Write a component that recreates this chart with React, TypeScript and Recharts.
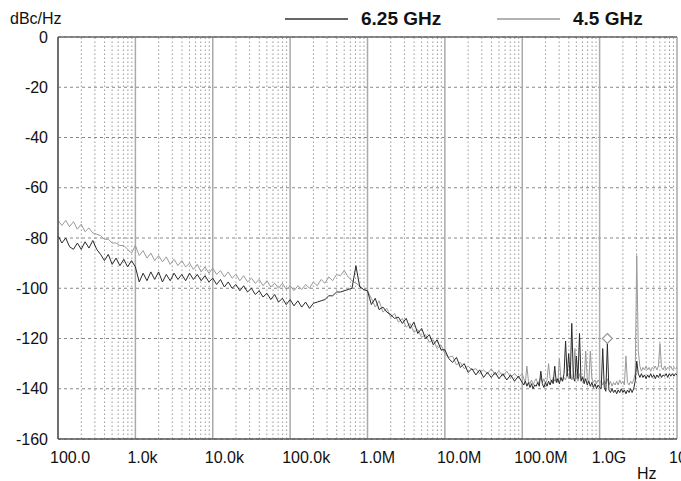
import { LineChart, Line, XAxis, YAxis, CartesianGrid, ReferenceLine, ReferenceDot } from 'recharts';

// offset frequency, as log10(Hz)
const logHz = [
  2, 2.05, 2.1, 2.15, 2.2, 2.25, 2.3, 2.35, 2.4, 2.45, 2.5, 2.55, 2.6, 2.65, 2.7, 2.75, 2.8, 2.85, 2.9, 2.95, 3,
  3.05, 3.1, 3.15, 3.2, 3.25, 3.3, 3.35, 3.4, 3.45, 3.5, 3.55, 3.6, 3.65, 3.7, 3.75, 3.8, 3.85, 3.9, 3.95, 4,
  4.05, 4.1, 4.15, 4.2, 4.25, 4.3, 4.35, 4.4, 4.45, 4.5, 4.55, 4.6, 4.65, 4.7, 4.75, 4.8, 4.85, 4.9, 4.95, 5,
  5.05, 5.1, 5.15, 5.2, 5.25, 5.3, 5.35, 5.4, 5.45, 5.5, 5.55, 5.6, 5.65, 5.7, 5.75, 5.8, 5.85, 5.9, 5.95, 6,
  6.05, 6.1, 6.15, 6.2, 6.25, 6.3, 6.35, 6.4, 6.45, 6.5, 6.55, 6.6, 6.65, 6.7, 6.75, 6.8, 6.85, 6.9, 6.95, 7,
  7.05, 7.1, 7.15, 7.2, 7.25, 7.3, 7.35, 7.4, 7.45, 7.5, 7.55, 7.6, 7.65, 7.7, 7.75, 7.8, 7.85, 7.9, 7.95, 8,
  8.02, 8.04, 8.06, 8.08, 8.1, 8.12, 8.14, 8.16, 8.18, 8.2, 8.22, 8.24, 8.26, 8.28, 8.3, 8.32, 8.34, 8.36, 8.38, 8.4,
  8.42, 8.44, 8.46, 8.48, 8.5, 8.52, 8.54, 8.56, 8.58, 8.6, 8.62, 8.64, 8.66, 8.68, 8.7, 8.72, 8.74, 8.76, 8.78, 8.8,
  8.82, 8.84, 8.86, 8.88, 8.9, 8.92, 8.94, 8.96, 8.98, 9,
  9.02, 9.04, 9.06, 9.08, 9.1, 9.12, 9.14, 9.16, 9.18, 9.2, 9.22, 9.24, 9.26, 9.28, 9.3, 9.32, 9.34, 9.36, 9.38, 9.4,
  9.42, 9.44, 9.46, 9.48, 9.5, 9.52, 9.54, 9.56, 9.58, 9.6, 9.62, 9.64, 9.66, 9.68, 9.7, 9.72, 9.74, 9.76, 9.78, 9.8,
  9.82, 9.84, 9.86, 9.88, 9.9, 9.92, 9.94, 9.96, 9.98, 10,
];

// 6.25 GHz carrier, dBc/Hz
const noise625 = [
  -79, -82, -80, -83.5, -84.5, -82, -84.5, -81.5, -84, -81, -84.5, -86.5, -89, -86.5, -90.5, -88, -91, -88.5, -91.5, -89, -91.5,
  -97.5, -94, -97, -93.5, -96.5, -93.5, -97.5, -94.5, -97, -94, -96.5, -94.5, -97, -94, -96.5, -94.5, -97, -95, -97.5, -96,
  -98.5, -96.5, -99.5, -97.5, -100, -98.5, -101, -99, -101.5, -100, -102.5, -101, -103.5, -102, -104.5, -102.5, -105.5, -104, -106.5, -104.5,
  -107, -105, -107.5, -105.5, -108, -106, -105.5, -105, -104.5, -103, -103, -101.5, -101.5, -101, -100.5, -100, -91, -99.5, -100.5, -101,
  -106.5, -104, -108.5, -107.5, -109.5, -110.5, -112, -111.5, -114, -112, -116, -113.5, -118, -116, -120, -118.5, -122.5, -120.5, -124.5, -124.5,
  -128, -129.5, -127.5, -131.5, -130, -133.5, -132, -134.5, -132.5, -135.5, -133.5, -135.5, -133.5, -136, -134, -136.5, -134.5, -137, -135, -137.5,
  -138.5, -137, -139, -137.5, -139.5, -138, -140, -138.5, -139, -137.5, -139, -133, -138, -139.5, -137.5, -139, -137, -138.5, -136.5, -138,
  -131, -137.5, -136, -138, -135.5, -137, -134, -121, -135, -126, -136, -114, -135.5, -137, -127, -136, -118, -137, -135.5, -138,
  -136, -138.5, -137, -139, -137.5, -139.5, -138, -140, -138.5, -139.5,
  -140, -124, -139.5, -141, -122, -140.5, -141.5, -140, -141.5, -140.5, -142, -140.5, -141.5, -140, -141.5, -140.5, -142, -140.5, -141.5, -140,
  -141.5, -140, -137, -129, -134, -135.5, -134, -135.5, -134.5, -136, -134.5, -135.5, -134, -135.5, -134.5, -136, -134.5, -135.5, -134, -135.5,
  -134.5, -135, -134, -135.5, -134, -135, -134, -135, -134, -134.5,
];

// 4.5 GHz carrier, dBc/Hz
const noise45 = [
  -73, -75, -73, -75.5, -73.5, -76.5, -74.5, -77.5, -76, -78, -78.5, -79, -80.5, -80.5, -82, -82, -83, -83, -84.5, -86, -83,
  -87, -85, -88, -86, -89, -87, -89.5, -87.5, -90.5, -88.5, -91, -89, -91.5, -90, -92.5, -90.5, -93.5, -91.5, -94, -92,
  -94.5, -93, -95.5, -93.5, -96, -94.5, -97, -95, -97.5, -96, -98, -96.5, -99, -97, -99.5, -98, -100, -98, -100.5, -99,
  -101, -99, -100.5, -98.5, -100, -97.5, -99, -96.5, -98, -95.5, -97, -94.5, -95, -93, -95.5, -97, -98, -99, -100.5, -101,
  -104, -107.5, -105, -109.5, -108, -111.5, -110, -113.5, -112, -115.5, -114, -117.5, -116.5, -119.5, -118.5, -121.5, -120.5, -124, -122.5, -126,
  -127.5, -127, -130.5, -129.5, -132, -131, -132.5, -132, -134, -132.5, -134, -132, -134.5, -133, -135, -133, -135.5, -134, -135.5, -134,
  -136, -137.5, -131, -137, -138, -136.5, -138.5, -137, -136, -138, -137, -135.5, -137.5, -136, -138, -136.5, -130, -136, -137.5, -135.5,
  -137, -136, -137.5, -128, -136, -137, -135.5, -136.5, -134, -136, -133, -136.5, -135, -124, -135.5, -137, -134, -136.5, -135, -137,
  -125, -136, -137.5, -125, -136, -137.5, -136.5, -138, -136.5, -137.5,
  -137, -138.5, -137, -138, -136, -138.5, -137, -139, -137.5, -138.5, -137, -138.5, -136.5, -138, -137, -138.5, -127, -137.5, -138.5, -137,
  -138, -136.5, -134, -87, -125, -131, -133, -131.5, -132.5, -131, -132.5, -131.5, -133, -131.5, -132, -131, -132.5, -131, -122, -131.5,
  -132.5, -131, -132.5, -131.5, -132, -131, -132.5, -131.5, -132, -131.5,
];

const decades = [1e2, 1e3, 1e4, 1e5, 1e6, 1e7, 1e8, 1e9, 1e10];
const decadeLabels = ['100.0', '1.0k', '10.0k', '100.0k', '1.0M', '10.0M', '100.0M', '1.0G', '10.0G'];
const dbTicks = [0, -20, -40, -60, -80, -100, -120, -140, -160];

const data = logHz.map((lg, i) => ({ hz: Math.pow(10, lg), a: noise625[i], b: noise45[i] }));

// 2..9 x each decade, for the dotted log grid
const minorLines = decades.slice(0, -1).flatMap((d) => [2, 3, 4, 5, 6, 7, 8, 9].map((k) => k * d));

const font = '"Liberation Sans", Arial, sans-serif';

function HzTick({ x, y, payload }: any) {
  const idx = Math.round(Math.log10(payload.value)) - 2;
  return (
    <text x={x - 8} y={y + 24} textAnchor="start" fontSize={16} fill="#111" fontFamily={font}>
      {decadeLabels[idx]}
    </text>
  );
}

function Diamond({ cx, cy }: any) {
  return (
    <path
      d={`M${cx},${cy - 5} L${cx + 5},${cy} L${cx},${cy + 5} L${cx - 5},${cy} Z`}
      fill="#fff"
      stroke="#999"
      strokeWidth={1.2}
    />
  );
}

export default function App() {
  return (
    <div style={{ position: 'absolute', left: 0, top: 0, width: 681, height: 481, background: '#fff', fontFamily: font }}>
      <LineChart width={681} height={481} data={data} margin={{ top: 37, right: 4, left: 0, bottom: 0 }}>
        <CartesianGrid vertical={false} stroke="#888" strokeDasharray="3 3" />
        {minorLines.map((v) => (
          <ReferenceLine key={'m' + v} x={v} stroke="#999" strokeDasharray="1.5 2.5" />
        ))}
        {decades.map((v) => (
          <ReferenceLine key={'d' + v} x={v} stroke="#aaa" strokeWidth={1.5} />
        ))}
        <ReferenceLine y={0} stroke="#666" strokeWidth={1.5} />
        <XAxis
          dataKey="hz"
          type="number"
          scale="log"
          domain={[100, 1e10]}
          ticks={decades}
          interval={0}
          allowDataOverflow
          height={42}
          tickLine={false}
          tickSize={0}
          tickMargin={0}
          axisLine={{ stroke: '#555', strokeWidth: 1.5 }}
          tick={<HzTick />}
        />
        <YAxis
          type="number"
          domain={[-160, 0]}
          ticks={dbTicks}
          interval={0}
          width={58}
          tickLine={false}
          tickSize={0}
          tickMargin={10}
          axisLine={{ stroke: '#555', strokeWidth: 1.5 }}
          tick={{ fontSize: 16, fill: '#111', fontFamily: font }}
        />
        <Line name="4.5 GHz" dataKey="b" stroke="#9a9a9a" strokeWidth={1} dot={false} isAnimationActive={false} />
        <Line name="6.25 GHz" dataKey="a" stroke="#2a2a2a" strokeWidth={1} dot={false} isAnimationActive={false} />
        <ReferenceDot x={Math.pow(10, 9.1)} y={-120} shape={<Diamond />} />
      </LineChart>
      <svg width={681} height={481} style={{ position: 'absolute', left: 0, top: 0, pointerEvents: 'none' }} fontFamily={font}>
        <text x={10} y={24} fontSize={16} fill="#111">dBc/Hz</text>
        <line x1={285} x2={348} y1={19} y2={19} stroke="#333" strokeWidth={1.5} />
        <text x={361} y={25} fontSize={19} fontWeight="bold" fill="#111">6.25 GHz</text>
        <line x1={497} x2={560} y1={19} y2={19} stroke="#999" strokeWidth={1.5} />
        <text x={573} y={25} fontSize={19} fontWeight="bold" fill="#111">4.5 GHz</text>
        <text x={637} y={479} fontSize={16} fill="#111">Hz</text>
      </svg>
    </div>
  );
}
